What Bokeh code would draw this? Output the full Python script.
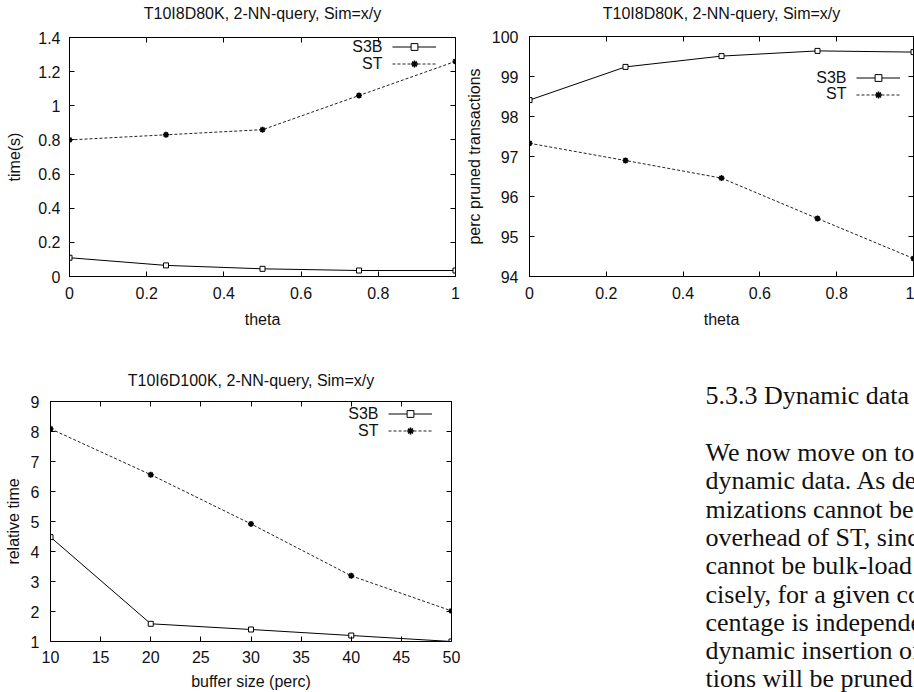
from bokeh.plotting import figure
from bokeh.layouts import column, row
from bokeh.models import (Range1d, FixedTicker, LinearAxis, Legend, LegendItem,
                          Label, CustomJSTickFormatter)
from bokeh.core.properties import value
from bokeh.embed import file_html
from bokeh.resources import INLINE

# ---------------- data ----------------
theta = [0, 0.25, 0.5, 0.75, 1.0]
time_s3b = [0.11, 0.065, 0.045, 0.035, 0.035]
time_st = [0.80, 0.83, 0.86, 1.06, 1.26]

pruned_s3b = [98.41, 99.24, 99.51, 99.64, 99.61]
pruned_st = [97.33, 96.90, 96.46, 95.45, 94.45]

buffer_pct = [10, 20, 30, 40, 50]
rel_s3b = [4.48, 1.59, 1.40, 1.20, 1.00]
rel_st = [8.09, 6.56, 4.92, 3.19, 2.02]

theta_ticks = [0, 0.2, 0.4, 0.6, 0.8, 1]
time_ticks = [0, 0.2, 0.4, 0.6, 0.8, 1, 1.2, 1.4]
pruned_ticks = [94, 95, 96, 97, 98, 99, 100]
buffer_ticks = [10, 15, 20, 25, 30, 35, 40, 45, 50]
rel_ticks = [1, 2, 3, 4, 5, 6, 7, 8, 9]

series_names = ["S3B", "ST"]

heading = "5.3.3 Dynamic data"
paragraph = [
    "We now move on to",
    "dynamic data. As de",
    "mizations cannot be",
    "overhead of ST, sinc",
    "cannot be bulk-load",
    "cisely, for a given co",
    "centage is independe",
    "dynamic insertion of",
    "tions will be pruned",
]

FONT = "Liberation Sans"
SERIF = "Liberation Serif"
FMT = CustomJSTickFormatter(code="return String(Number(tick.toFixed(6)));")
BLANK = CustomJSTickFormatter(code="return '';")


def make_chart(title, x, s3b, st, xr, yr, xticks, yticks, xlabel, ylabel,
               width, height, borders, key, standoffs):
    left, right, top, bottom = borders
    p = figure(width=width, height=height,
               x_range=Range1d(*xr), y_range=Range1d(*yr),
               output_backend="svg", toolbar_location=None,
               min_border_left=left, min_border_right=right,
               min_border_top=top, min_border_bottom=bottom,
               title=None, frame_align=False)

    p.grid.visible = False
    p.outline_line_color = "black"
    p.outline_line_width = 1
    p.background_fill_color = "white"
    p.border_fill_color = "white"

    for ax, ticks, lab, mls, als in ((p.xaxis[0], xticks, xlabel, standoffs["xm"], standoffs["xa"]),
                                    (p.yaxis[0], yticks, ylabel, standoffs["ym"], standoffs["ya"])):
        ax.ticker = FixedTicker(ticks=ticks)
        ax.formatter = FMT
        ax.major_tick_in = 5
        ax.major_tick_out = 0
        ax.minor_tick_in = 0
        ax.minor_tick_out = 0
        ax.major_tick_line_color = "black"
        ax.axis_line_color = "black"
        ax.major_label_text_font = FONT
        ax.major_label_text_font_size = "16px"
        ax.major_label_text_color = "#111111"
        ax.major_label_standoff = mls
        ax.axis_label = lab
        ax.axis_label_text_font = FONT
        ax.axis_label_text_font_size = "16px"
        ax.axis_label_text_font_style = "normal"
        ax.axis_label_text_color = "#111111"
        ax.axis_label_standoff = als

    # mirrored (gnuplot-style) axes; the top one carries the chart title
    right_ax = LinearAxis(ticker=FixedTicker(ticks=yticks), formatter=BLANK,
                          major_tick_in=5, major_tick_out=0,
                          minor_tick_in=0, minor_tick_out=0,
                          major_label_standoff=0,
                          major_label_text_font_size="1px",
                          axis_line_color="black")
    p.add_layout(right_ax, "right")
    top_ax = LinearAxis(ticker=FixedTicker(ticks=xticks), formatter=BLANK,
                        major_tick_in=5, major_tick_out=0,
                        minor_tick_in=0, minor_tick_out=0,
                        major_label_standoff=0,
                        major_label_text_font_size="1px",
                        axis_line_color="black",
                        axis_label=title,
                        axis_label_text_font=FONT,
                        axis_label_text_font_size="16px",
                        axis_label_text_font_style="normal",
                        axis_label_text_color="#111111",
                        axis_label_standoff=standoffs["title"])
    p.add_layout(top_ax, "above")

    r1 = p.line(x, s3b, line_color="black", line_width=1)
    m1 = p.scatter(x, s3b, marker="square", size=5, fill_color="white",
                   line_color="black", line_width=1)
    r2 = p.line(x, st, line_color="#222222", line_width=1, line_dash="3 2")
    m2 = p.scatter(x, st, marker="asterisk", size=6, line_color="black",
                   line_width=1.6)

    kx, ky, ty1, ty2 = key
    leg = Legend(items=[LegendItem(label=value(""), renderers=[r1, m1]),
                        LegendItem(label=value(""), renderers=[r2, m2])],
                 location=(kx, ky), glyph_width=44, glyph_height=17,
                 label_height=17, label_width=0, label_standoff=0,
                 padding=0, spacing=0, margin=0,
                 border_line_alpha=0, background_fill_alpha=0)
    p.add_layout(leg)
    for name, ty in zip(series_names, (ty1, ty2)):
        p.add_layout(Label(x=kx - 10, y=ty, x_units="screen", y_units="screen",
                           text=name, text_align="right", text_baseline="middle",
                           text_font=FONT, text_font_size="16px",
                           text_color="#111111"))
    return p


title_a = "T10I8D80K, 2-NN-query, Sim=x/y"
title_b = "T10I6D100K, 2-NN-query, Sim=x/y"

p1 = make_chart(title_a, theta, time_s3b, time_st, (0, 1), (0, 1.4),
                theta_ticks, time_ticks, "theta", "time(s)",
                460, 330, (69, 5, 37, 53), (323, 204.5, 230, 213),
                dict(title=16, xm=10, xa=9, ym=9, ya=12))
p2 = make_chart(title_a, theta, pruned_s3b, pruned_st, (0, 1), (94, 100),
                theta_ticks, pruned_ticks, "theta", "perc pruned transactions",
                454, 330, (69, 1, 36, 54), (327, 173.5, 199, 183),
                dict(title=15, xm=10, xa=9, ym=11, ya=6))
p3 = make_chart(title_b, buffer_pct, rel_s3b, rel_st, (10, 50), (1, 9),
                buffer_ticks, rel_ticks, "buffer size (perc)", "relative time",
                460, 362, (50, 9, 71, 51), (338, 202.5, 228, 211),
                dict(title=13, xm=9, xa=7, ym=11, ya=6))

# text panel
p4 = figure(width=454, height=362, x_range=Range1d(0, 1), y_range=Range1d(0, 1),
            output_backend="svg", toolbar_location=None,
            x_axis_type=None, y_axis_type=None, min_border=0, frame_align=False)
p4.outline_line_color = None
p4.grid.visible = False
p4.border_fill_color = "white"
p4.background_fill_color = "white"
p4.add_layout(Label(x=245, y=297, x_units="screen", y_units="screen",
                    text=heading, text_font=SERIF, text_font_size="26px",
                    text_color="#111111", text_baseline="alphabetic"))
for i, line in enumerate(paragraph):
    p4.add_layout(Label(x=245, y=240 - 28.3 * i, x_units="screen", y_units="screen",
                        text=line, text_font=SERIF, text_font_size="26px",
                        text_color="#111111", text_baseline="alphabetic"))

layout = column(row(p1, p2), row(p3, p4))
open("out.html", "w").write(file_html(layout, INLINE))
